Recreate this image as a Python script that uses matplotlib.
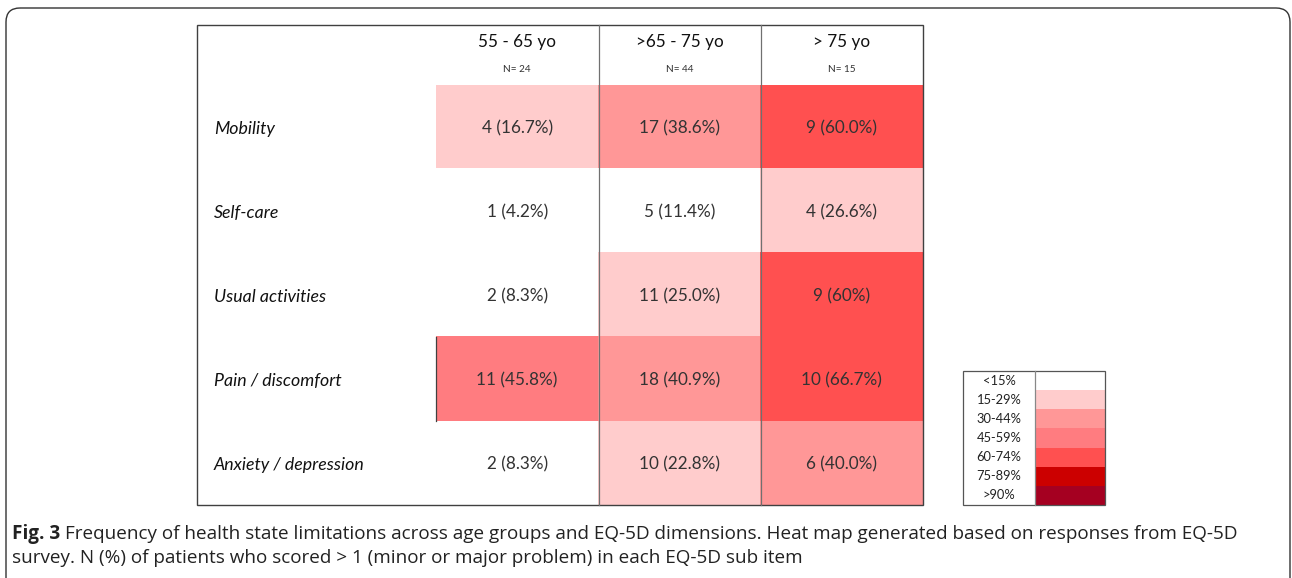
import matplotlib
matplotlib.use('Agg')
import matplotlib.pyplot as plt
import matplotlib.transforms as mtransforms
from matplotlib.colors import ListedColormap, BoundaryNorm
from matplotlib.patches import FancyBboxPatch, Rectangle
import numpy as np

# dati
age_groups = ['55 - 65 yo', '>65 - 75 yo', '> 75 yo']
group_n = ['N= 24', 'N= 44', 'N= 15']
dimensions = ['Mobility', 'Self-care', 'Usual activities', 'Pain / discomfort', 'Anxiety / depression']
counts = [[4, 17, 9],
          [1, 5, 4],
          [2, 11, 9],
          [11, 18, 10],
          [2, 10, 6]]
pct_labels = [['16.7%', '38.6%', '60.0%'],
              ['4.2%', '11.4%', '26.6%'],
              ['8.3%', '25.0%', '60%'],
              ['45.8%', '40.9%', '66.7%'],
              ['8.3%', '22.8%', '40.0%']]
pct = np.array([[16.7, 38.6, 60.0],
                [4.2, 11.4, 26.6],
                [8.3, 25.0, 60.0],
                [45.8, 40.9, 66.7],
                [8.3, 22.8, 40.0]])
legend_labels = ['<15%', '15-29%', '30-44%', '45-59%', '60-74%', '75-89%', '>90%']
legend_bounds = [0, 15, 30, 45, 60, 75, 90, 100]
legend_colors = ['#FFFFFF', '#FFCCCC', '#FF9797', '#FF7C80', '#FF5050', '#CC0000', '#A50021']

cmap = ListedColormap(legend_colors)
norm = BoundaryNorm(legend_bounds, cmap.N)

W, H = 1292, 578
fig = plt.figure(figsize=(W / 100, H / 100), dpi=100)
fig.patch.set_facecolor('white')

# asse di sfondo in pixel
ax0 = fig.add_axes([0, 0, 1, 1])
ax0.set_xlim(0, W)
ax0.set_ylim(H, 0)
ax0.axis('off')

def fig_rect(x0, y0, x1, y1):
    return [x0 / W, (H - y1) / H, (x1 - x0) / W, (y1 - y0) / H]

# cornice arrotondata
ax0.add_patch(FancyBboxPatch((6, 8), 1284, 620, boxstyle='round,pad=0,rounding_size=14',
                             fc='none', ec='#333333', lw=1.0))

# heat map
ax = fig.add_axes(fig_rect(436, 85, 923, 505), zorder=2)
ax.imshow(pct, cmap=cmap, norm=norm, aspect='auto')
ax.set_xlim(-0.5, 2.5)
ax.set_ylim(4.5, -0.5)
ax.axis('off')

tfont = 'Lato'
for i in range(len(dimensions)):
    for j in range(len(age_groups)):
        ax.text(j, i + 0.02, f'{counts[i][j]} ({pct_labels[i][j]})', ha='center', va='center',
                fontsize=12.3, color='#333333', family=tfont)

# etichette righe
row_tr = mtransforms.blended_transform_factory(ax0.transData, ax.transData)
for i, d in enumerate(dimensions):
    ax.text(214, i + 0.02, d, transform=row_tr, ha='left', va='center', fontsize=12.8,
            style='italic', color='#111111', family=tfont, clip_on=False)

# intestazioni
col_tr = mtransforms.blended_transform_factory(ax.transData, ax0.transData)
for j, (g, n) in enumerate(zip(age_groups, group_n)):
    ax.text(j, 42, g, transform=col_tr, ha='center', va='center', fontsize=12.3,
            color='#111111', family=tfont, clip_on=False)
    ax.text(j, 70, n, transform=col_tr, ha='center', va='center', fontsize=7.2,
            color='#333333', family=tfont, clip_on=False)

# bordi tabella
ov = fig.add_axes([0, 0, 1, 1], zorder=3)
ov.set_xlim(0, W)
ov.set_ylim(H, 0)
ov.axis('off')
ov.add_patch(Rectangle((197, 25), 726, 480, fc='none', ec='#404040', lw=1.0))
for x in (599, 761):
    ov.plot([x, x], [25, 505], color='#707070', lw=0.9)
ov.plot([436, 436], [337, 421], color='#404040', lw=0.9)

# legenda
axl = fig.add_axes(fig_rect(1035, 371, 1105, 505), zorder=2)
axl.imshow(np.array([[legend_bounds[k] + 1] for k in range(len(legend_labels))]),
           cmap=cmap, norm=norm, aspect='auto')
axl.set_xlim(-0.5, 0.5)
axl.set_ylim(len(legend_labels) - 0.5, -0.5)
axl.axis('off')
leg_tr = mtransforms.blended_transform_factory(ax0.transData, axl.transData)
for k, lab in enumerate(legend_labels):
    axl.text(999, k, lab, transform=leg_tr, ha='center', va='center', fontsize=9.3,
             color='#222222', family=tfont, clip_on=False)
ov.add_patch(Rectangle((963, 371), 142, 134, fc='none', ec='#555555', lw=0.9))
ov.plot([1035, 1035], [371, 505], color='#888888', lw=0.9)

# didascalia
cfont = 'Open Sans'
csize = 13.6
t1 = ax0.text(12, 534, 'Fig. 3', fontsize=csize, fontweight='bold', family=cfont,
              color='#222222', va='center', ha='left')
fig.canvas.draw()
bb = t1.get_window_extent()
ax0.text(bb.x1 + 5, 534, 'Frequency of health state limitations across age groups and EQ-5D dimensions. '
         'Heat map generated based on responses from EQ-5D', fontsize=csize, family=cfont,
         color='#222222', va='center', ha='left')
ax0.text(12, 558, 'survey. N (%) of patients who scored > 1 (minor or major problem) in each EQ-5D sub item',
         fontsize=csize, family=cfont, color='#222222', va='center', ha='left')

fig.savefig('out.png', dpi=100)
